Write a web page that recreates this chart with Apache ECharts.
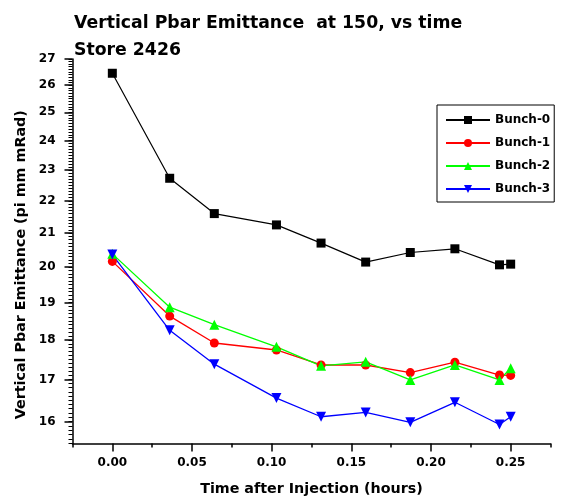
<!DOCTYPE html>
<html>
<head>
<meta charset="utf-8">
<script src="https://cdn.jsdelivr.net/npm/echarts@6/dist/echarts.min.js"></script>
<style>
  html, body { margin: 0; padding: 0; background: #fff; }
  #chart { width: 575px; height: 504px; }
</style>
</head>
<body>
<div id="chart"></div>
<script>
// Time after injection (hours) for each measurement
const timeHours = [0.000, 0.036, 0.064, 0.103, 0.131, 0.159, 0.187, 0.215, 0.243, 0.250];

// Vertical pbar emittance (pi mm mRad) per bunch
const bunch0 = [26.45, 22.73, 21.60, 21.25, 20.70, 20.14, 20.42, 20.53, 20.06, 20.08];
const bunch1 = [20.16, 18.63, 17.92, 17.74, 17.36, 17.36, 17.17, 17.43, 17.11, 17.10];
const bunch2 = [20.38, 18.87, 18.40, 17.82, 17.34, 17.44, 16.99, 17.36, 16.99, 17.28];
const bunch3 = [20.36, 18.25, 17.38, 16.55, 16.11, 16.21, 15.98, 16.45, 15.93, 16.11];

const seriesNames = ['Bunch-0', 'Bunch-1', 'Bunch-2', 'Bunch-3'];

// Axis tick values
const yMajorTicks = [16, 17, 18, 19, 20, 21, 22, 23, 24, 25, 26, 27];
const yMinorTicks = [];
for (let i = 155; i <= 270; i++) yMinorTicks.push(i / 10);
const xMajorTicks = [0.00, 0.05, 0.10, 0.15, 0.20, 0.25];
const xMinorTicks = [-0.025, 0.025, 0.075, 0.125, 0.175, 0.225, 0.275];

const FONT = 'DejaVu Sans, Verdana, sans-serif';

function pairs(vals) {
  return timeHours.map((t, i) => [t, vals[i]]);
}

const chart = echarts.init(document.getElementById('chart'), null, { renderer: 'canvas' });

const xRange = { min: -0.025, max: 0.275 };
const yRange = { min: 15.5, max: 27 };

chart.setOption({
  backgroundColor: '#ffffff',
  animation: false,
  title: {
    text: 'Vertical Pbar Emittance  at 150, vs time\nStore 2426',
    left: 69,
    top: 5,
    textStyle: {
      fontFamily: FONT,
      fontWeight: 'bold',
      fontSize: 17.3,
      lineHeight: 27,
      color: '#000'
    }
  },
  legend: {
    orient: 'vertical',
    left: 437,
    top: 105,
    borderColor: '#000',
    borderWidth: 1,
    padding: [9, 4, 7, 8],
    itemGap: 11,
    itemWidth: 44,
    itemHeight: 10,
    symbolRotate: 'inherit',
    data: seriesNames,
    textStyle: {
      fontFamily: FONT,
      fontWeight: 'bold',
      fontSize: 12,
      color: '#000'
    }
  },
  grid: {
    left: 72.5,
    right: 24.5,
    top: 59,
    bottom: 60.5
  },
  xAxis: [
    {
      type: 'value',
      min: xRange.min,
      max: xRange.max,
      name: 'Time after Injection (hours)',
      nameLocation: 'middle',
      nameGap: 39,
      nameTextStyle: { fontFamily: FONT, fontWeight: 'bold', fontSize: 14.3, color: '#000' },
      axisLine: { show: true, onZero: false, lineStyle: { color: '#000', width: 1.5 } },
      axisTick: { show: true, length: 8, lineStyle: { color: '#000', width: 1.5 }, customValues: xMajorTicks },
      axisLabel: {
        customValues: xMajorTicks,
        margin: 13,
        fontFamily: FONT,
        fontWeight: 'bold',
        fontSize: 12,
        color: '#000',
        formatter: v => v.toFixed(2)
      },
      splitLine: { show: false }
    },
    {
      // minor ticks along the time axis
      type: 'value',
      position: 'bottom',
      min: xRange.min,
      max: xRange.max,
      axisLine: { show: false, onZero: false },
      axisTick: { show: true, length: 4, lineStyle: { color: '#000', width: 1.5 }, customValues: xMinorTicks },
      axisLabel: { show: false, customValues: xMinorTicks },
      splitLine: { show: false }
    }
  ],
  yAxis: [
    {
      type: 'log',
      logBase: 10,
      min: yRange.min,
      max: yRange.max,
      name: 'Vertical Pbar Emittance (pi mm mRad)',
      nameLocation: 'middle',
      nameRotate: 90,
      nameGap: 43,
      nameTextStyle: {
        fontFamily: FONT,
        fontWeight: 'bold',
        fontSize: 14.3,
        color: '#000',
        padding: [0, 27, 0, 0]
      },
      axisLine: { show: true, onZero: false, lineStyle: { color: '#000', width: 1.5 } },
      axisTick: { show: true, length: 8, lineStyle: { color: '#000', width: 1.5 }, customValues: yMajorTicks },
      axisLabel: {
        customValues: yMajorTicks,
        margin: 17,
        fontFamily: FONT,
        fontWeight: 'bold',
        fontSize: 12,
        color: '#000',
        formatter: v => String(Math.round(v))
      },
      splitLine: { show: false }
    },
    {
      // minor ticks along the emittance axis
      type: 'log',
      logBase: 10,
      position: 'left',
      min: yRange.min,
      max: yRange.max,
      axisLine: { show: false, onZero: false },
      axisTick: { show: true, length: 4, lineStyle: { color: '#000', width: 1 }, customValues: yMinorTicks },
      axisLabel: { show: false, customValues: yMinorTicks },
      splitLine: { show: false }
    }
  ],
  series: [
    {
      name: 'Bunch-0',
      type: 'line',
      data: pairs(bunch0),
      color: '#000000',
      symbol: 'rect',
      symbolSize: 9,
      lineStyle: { width: 1.2, color: '#000000' },
      itemStyle: { color: '#000000' }
    },
    {
      name: 'Bunch-1',
      type: 'line',
      data: pairs(bunch1),
      color: '#ff0000',
      symbol: 'circle',
      symbolSize: 9,
      lineStyle: { width: 1.3, color: '#ff0000' },
      itemStyle: { color: '#ff0000' }
    },
    {
      name: 'Bunch-2',
      type: 'line',
      data: pairs(bunch2),
      color: '#00ff00',
      symbol: 'triangle',
      symbolSize: 10,
      lineStyle: { width: 1.3, color: '#00ff00' },
      itemStyle: { color: '#00ff00' }
    },
    {
      name: 'Bunch-3',
      type: 'line',
      data: pairs(bunch3),
      color: '#0000ff',
      symbol: 'triangle',
      symbolRotate: 180,
      symbolSize: 10,
      lineStyle: { width: 1.3, color: '#0000ff' },
      itemStyle: { color: '#0000ff' }
    }
  ]
});
</script>
</body>
</html>
